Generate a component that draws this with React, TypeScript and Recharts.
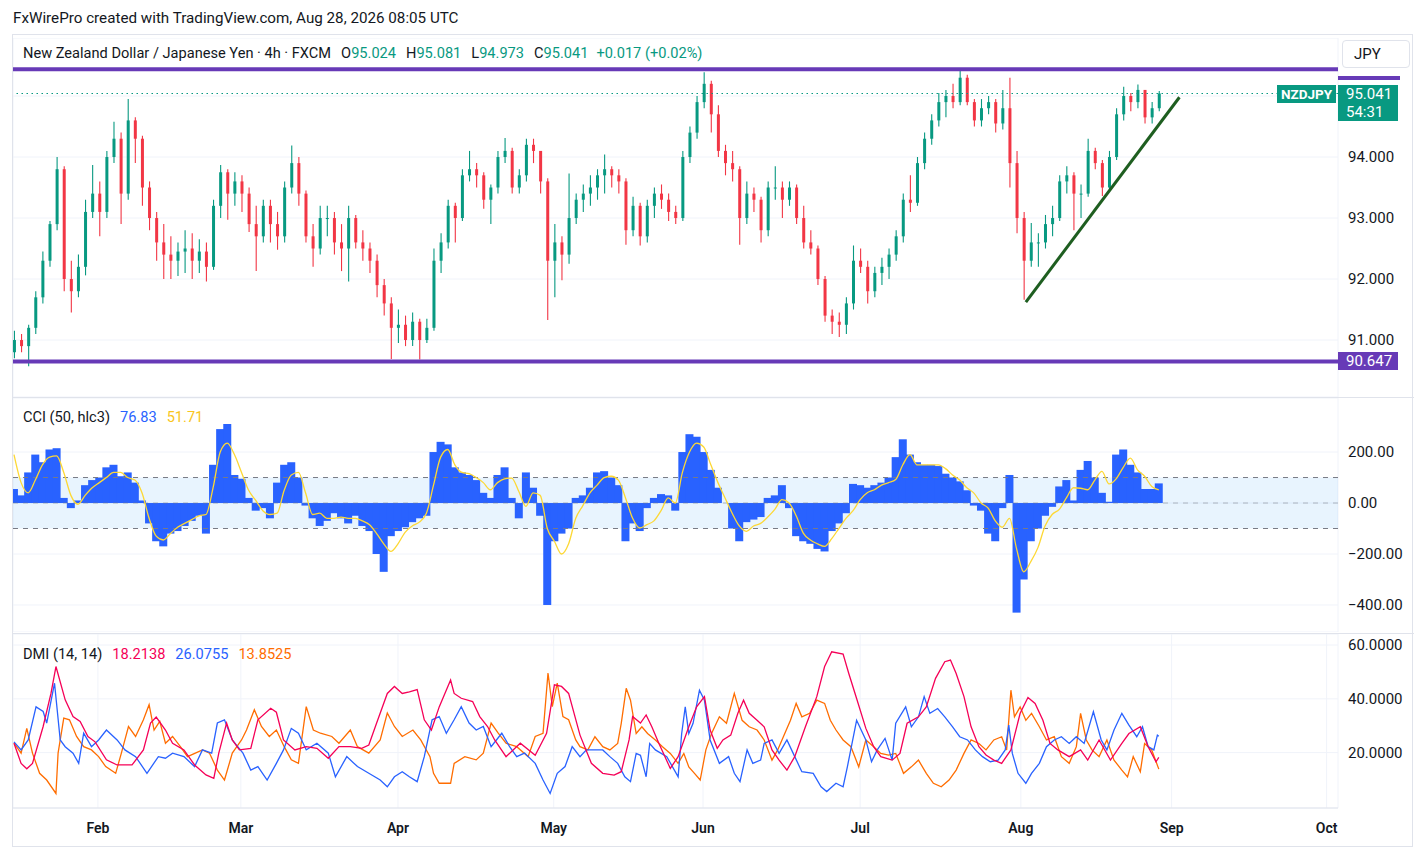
import React from 'react';
import { ComposedChart, Bar, Line, XAxis, YAxis, CartesianGrid, ReferenceLine, ReferenceArea } from 'recharts';

const FONT = 'Roboto, "Noto Sans", "DejaVu Sans", sans-serif';
const UP = '#089981';
const DOWN = '#f23645';
const GRID = '#f0f3fa';
const PURPLE = '#673ab7';
const TEXT = '#131722';

// trading-day index of month starts (x axis)
const monthTicks = [11.8, 31.9, 54, 75.9, 96.9, 119, 141.6, 162.8, 184.6];
const monthLabels = ['Feb', 'Mar', 'Apr', 'May', 'Jun', 'Jul', 'Aug', 'Sep', 'Oct'];
const xDomain: [number, number] = [-0.14, 186.2];

// daily OHLC, NZDJPY (Jan 15 .. Aug 28)
const ohlc: [number, number, number, number][] = [
  [90.80, 91.15, 90.70, 91.00], [91.00, 91.10, 90.80, 90.90], [90.90, 91.25, 90.57, 91.20], [91.20, 91.80, 91.10, 91.70], [91.70, 92.45, 91.60, 92.30],
  [92.30, 92.95, 92.20, 92.90], [92.90, 94.00, 92.80, 93.80], [93.80, 93.85, 91.80, 92.00], [92.00, 92.30, 91.45, 91.80], [91.80, 92.40, 91.70, 92.20],
  [92.20, 93.30, 92.06, 93.10], [93.10, 93.87, 93.00, 93.40], [93.40, 93.60, 92.70, 93.10], [93.10, 94.10, 93.00, 94.00], [94.00, 94.58, 93.90, 94.30],
  [94.30, 94.40, 92.90, 93.40], [93.40, 94.95, 93.30, 94.60], [94.60, 94.65, 93.90, 94.30], [94.30, 94.35, 93.20, 93.50], [93.50, 93.60, 92.80, 93.00],
  [93.00, 93.10, 92.30, 92.60], [92.60, 92.90, 92.00, 92.40], [92.40, 92.70, 92.00, 92.30], [92.30, 92.60, 92.05, 92.45], [92.45, 92.80, 92.10, 92.50],
  [92.50, 92.75, 92.00, 92.30], [92.30, 92.65, 92.10, 92.45], [92.45, 92.60, 91.96, 92.20], [92.20, 93.30, 92.15, 93.20], [93.20, 93.87, 93.00, 93.75],
  [93.75, 93.80, 92.97, 93.40], [93.40, 93.75, 93.20, 93.60], [93.60, 93.70, 93.10, 93.40], [93.40, 93.50, 92.77, 92.90], [92.90, 93.20, 92.13, 92.70],
  [92.70, 93.30, 92.60, 93.20], [93.20, 93.30, 92.60, 92.90], [92.90, 93.10, 92.48, 92.70], [92.70, 93.60, 92.60, 93.50], [93.50, 94.19, 93.40, 93.90],
  [93.90, 94.00, 93.20, 93.40], [93.40, 93.45, 92.60, 92.70], [92.70, 92.90, 92.20, 92.50], [92.50, 93.20, 92.40, 93.00], [93.00, 93.20, 92.70, 93.00],
  [93.00, 93.10, 92.40, 92.60], [92.60, 92.90, 92.13, 92.50], [92.50, 93.20, 91.96, 93.00], [93.00, 93.05, 92.50, 92.60], [92.60, 92.80, 92.30, 92.50],
  [92.50, 92.60, 92.10, 92.30], [92.30, 92.40, 91.70, 91.90], [91.90, 92.00, 91.40, 91.60], [91.60, 91.70, 90.69, 91.20], [91.20, 91.50, 90.95, 91.25],
  [91.25, 91.40, 90.90, 91.00], [91.00, 91.45, 90.90, 91.30], [91.30, 91.35, 90.68, 91.00], [91.00, 91.35, 90.95, 91.20], [91.20, 92.50, 91.15, 92.30],
  [92.30, 92.75, 92.10, 92.60], [92.60, 93.30, 92.50, 93.20], [93.20, 93.25, 92.60, 93.00], [93.00, 93.80, 92.95, 93.70], [93.70, 94.10, 93.60, 93.80],
  [93.80, 93.90, 93.50, 93.70], [93.70, 93.75, 93.15, 93.30], [93.30, 93.55, 92.90, 93.50], [93.50, 94.10, 93.40, 94.00], [94.00, 94.31, 93.90, 94.10],
  [94.10, 94.15, 93.40, 93.50], [93.50, 93.80, 93.40, 93.70], [93.70, 94.30, 93.60, 94.20], [94.20, 94.30, 93.90, 94.10], [94.10, 94.10, 93.40, 93.60],
  [93.60, 93.65, 91.33, 92.30], [92.30, 92.90, 91.70, 92.60], [92.60, 92.70, 91.98, 92.40], [92.40, 93.73, 92.25, 93.00], [93.00, 93.40, 92.90, 93.30],
  [93.30, 93.55, 93.10, 93.40], [93.40, 93.70, 93.20, 93.50], [93.50, 93.80, 93.30, 93.70], [93.70, 94.04, 93.40, 93.80], [93.80, 93.85, 93.50, 93.70],
  [93.70, 93.80, 93.40, 93.60], [93.60, 93.65, 92.56, 92.80], [92.80, 93.35, 92.70, 93.20], [93.20, 93.25, 92.55, 92.70], [92.70, 93.30, 92.60, 93.20],
  [93.20, 93.50, 93.00, 93.40], [93.40, 93.55, 93.15, 93.30], [93.30, 93.40, 92.95, 93.10], [93.10, 93.20, 92.90, 93.00], [93.00, 94.10, 92.95, 94.00],
  [94.00, 94.50, 93.90, 94.40], [94.40, 95.00, 94.30, 94.90], [94.90, 95.39, 94.80, 95.20], [95.20, 95.25, 94.40, 94.70], [94.70, 94.85, 94.00, 94.10],
  [94.10, 94.20, 93.70, 93.90], [93.90, 94.10, 93.60, 93.80], [93.80, 93.85, 92.56, 93.00], [93.00, 93.60, 92.90, 93.40], [93.40, 93.50, 93.10, 93.30],
  [93.30, 93.35, 92.60, 92.80], [92.80, 93.60, 92.70, 93.50], [93.50, 93.85, 93.30, 93.50], [93.50, 93.60, 93.00, 93.30], [93.30, 93.60, 93.20, 93.50],
  [93.50, 93.55, 92.90, 93.00], [93.00, 93.20, 92.50, 92.60], [92.60, 92.80, 92.40, 92.50], [92.50, 92.55, 91.90, 92.00], [92.00, 92.05, 91.30, 91.40],
  [91.40, 91.50, 91.10, 91.30], [91.30, 91.45, 91.05, 91.25], [91.25, 91.70, 91.10, 91.60], [91.60, 92.55, 91.50, 92.30], [92.30, 92.50, 92.10, 92.20],
  [92.20, 92.30, 91.60, 91.80], [91.80, 92.20, 91.70, 92.10], [92.10, 92.35, 91.90, 92.20], [92.20, 92.50, 92.00, 92.40], [92.40, 92.80, 92.30, 92.70],
  [92.70, 93.40, 92.60, 93.30], [93.30, 93.70, 93.10, 93.25], [93.25, 94.00, 93.20, 93.90], [93.90, 94.40, 93.80, 94.30], [94.30, 94.70, 94.20, 94.60],
  [94.60, 95.05, 94.50, 94.90], [94.90, 95.10, 94.65, 95.00], [95.00, 95.20, 94.80, 94.90], [94.90, 95.42, 94.85, 95.30], [95.30, 95.35, 94.85, 94.90],
  [94.90, 94.95, 94.50, 94.60], [94.60, 94.95, 94.50, 94.80], [94.80, 95.00, 94.70, 94.90], [94.90, 94.95, 94.40, 94.55], [94.55, 95.10, 94.45, 94.80],
  [94.80, 95.30, 93.50, 93.90], [93.90, 94.10, 92.75, 93.00], [93.00, 93.10, 91.66, 92.30], [92.30, 92.92, 92.20, 92.60], [92.60, 92.75, 92.20, 92.60],
  [92.60, 93.05, 92.50, 92.90], [92.90, 93.20, 92.70, 93.00], [93.00, 93.70, 92.95, 93.60], [93.60, 93.85, 93.40, 93.70], [93.70, 93.75, 92.80, 93.40],
  [93.40, 93.55, 93.00, 93.40], [93.40, 94.30, 93.35, 94.10], [94.10, 94.15, 93.80, 93.90], [93.90, 93.95, 93.36, 93.50], [93.50, 94.10, 93.45, 94.00],
  [94.00, 94.80, 93.95, 94.70], [94.70, 95.15, 94.60, 95.00], [95.00, 95.05, 94.75, 94.90], [94.90, 95.19, 94.80, 95.10], [95.10, 95.10, 94.55, 94.65],
  [94.65, 94.90, 94.55, 94.80], [94.80, 95.081, 94.75, 95.041],
];

const cciHist = [
  55, 30, 120, 190, 160, 210, 215, 20, -20, 10,
  70, 90, 100, 140, 150, 105, 120, 80, 10, -80,
  -150, -170, -120, -110, -90, -70, -50, -120, 150, 290,
  310, 110, 95, 20, -30, -20, -60, 80, 150, 160,
  100, -10, -60, -90, -70, -40, -60, -80, -50, -90,
  -110, -200, -270, -130, -110, -95, -75, -60, -50, 200,
  240, 230, 140, 120, 110, 90, 40, 20, 110, 140,
  20, -60, 120, 60, -50, -400, -150, -120, -100, 20,
  30, 60, 120, 125, 100, 70, -150, -80, -110, -20,
  20, 35, 30, -30, 200, 270, 260, 200, 130, 60,
  0, -100, -150, -75, -65, -55, 20, 30, 70, -20,
  -130, -150, -160, -180, -190, -110, -80, -40, 75, 70,
  60, 70, 80, 100, 180, 250, 190, 160, 150, 150,
  145, 115, 100, 85, 50, -10, -30, -120, -150, -20,
  110, -430, -300, -150, -100, -50, -15, 65, 90, 10,
  130, 165, 100, 40, 5, 190, 210, 150, 120, 55,
  55, 77,
];

const cciSignal = [
  190, 80, 40, 90, 150, 180, 185, 120, 30, -5,
  30, 60, 80, 100, 120, 120, 100, 90, 40, -60,
  -130, -145, -120, -95, -80, -65, -50, -45, 60, 200,
  235, 190, 120, 50, 10, -30, -45, -40, 50, 110,
  120, 40, -45, -40, -60, -60, -55, -60, -60, -70,
  -85, -120, -160, -190, -160, -115, -90, -75, -40, 70,
  180, 210, 150, 120, 115, 100, 80, 52, 80, 95,
  98, 45, -13, 40, 30, -100, -150, -200, -160, -60,
  -10, 40, 70, 100, 105, 90, 20, -60, -98, -85,
  -70, -30, 20, 0, 120, 200, 235, 220, 150, 80,
  20, -40, -90, -111, -90, -80, -55, -25, 13, 0,
  -50, -118, -145, -160, -170, -140, -100, -60, -30, 13,
  40, 52, 70, 80, 92, 150, 190, 150, 150, 150,
  150, 135, 110, 90, 60, 39, 0, -20, -70, -95,
  -60, -180, -270, -230, -175, -90, -45, -25, 20, 60,
  58, 52, 90, 124, 75, 95, 140, 176, 130, 105,
  65, 52,
];

// DMI readings: [trading-day index, value]
const adxPts: [number, number][] = [[0,23.5],[1,16],[1.8,14],[2.6,16],[4.1,29.7],[5.2,42],[5.9,52],[7.2,39.6],[8.3,33.4],[9.3,31.6],[10.4,26],[11.4,24],[13,17.3],[14.5,15.4],[16.6,15.4],[18.2,21],[19.2,31],[20,33.2],[21.3,28.4],[22.3,23.5],[23.9,21],[25.4,15.4],[27,11.7],[28.1,10.4],[28.8,19.8],[29.9,31],[30.7,24.7],[31.7,21],[33.3,21.6],[34.3,32.2],[36.1,36.5],[36.9,35],[37.9,24.7],[39.5,21],[41.1,22.2],[42.6,21.6],[44.2,17.9],[45.7,22.2],[47.3,22.2],[48.9,21.6],[49.9,22.8],[51,31],[52.5,42],[53.5,44.6],[54.6,42],[55.6,42.6],[56.7,43.4],[57.7,32.2],[58.7,28.4],[59.8,37],[61.4,47],[61.9,42],[62.9,40.2],[64.5,39],[65.5,33.4],[66.6,29.7],[67.6,24.7],[69.2,18.5],[71.2,23.5],[73.3,19],[74.9,27.2],[76,45.2],[77,44.6],[78,42],[79.6,26.5],[81.2,16],[82.8,12.3],[84.4,11.6],[85.4,12.9],[86.5,24.7],[87,33.4],[88.1,31],[88.9,34],[89.7,29.6],[90.7,23.4],[92.3,14.1],[93.4,18.5],[94.9,29.6],[96,37],[97.1,40.8],[97.9,28.4],[98.9,21.6],[99.7,24.7],[100.8,26.5],[101.8,34.6],[102.6,39.5],[103.4,34.6],[104.5,32],[105.5,29.6],[106.6,21],[107.6,17.2],[108.7,13.5],[109.8,18.5],[111.3,29.6],[112.9,40.8],[114,52],[115,57.5],[116.6,56.6],[117.4,49.4],[118.5,40.1],[119.8,29],[120.9,22.2],[121.9,18.5],[123.5,17.2],[124.6,19.7],[125.6,30.9],[127.2,33.3],[128.3,37],[129.6,47.6],[130.9,53.8],[131.7,54.4],[132.5,49.4],[133.6,40.8],[134.6,29.6],[135.7,22.2],[136.7,19.1],[137.8,17.2],[138.9,16],[140.2,21],[141.5,34.6],[142.6,40.5],[143.6,38.3],[144.7,32],[145.7,23.4],[146.8,21],[148.4,18.5],[150,21],[151,17.2],[152.6,24.7],[154.2,17.2],[155.8,23.4],[156.8,27.1],[158.4,29.6],[159.5,22.2],[160.6,16.6],[161,18.2]];

const plusDiPts: [number, number][] = [[0,24],[1,21],[2,24.7],[3.1,37],[4.1,35.3],[4.6,31],[5.7,45.8],[6.5,24.7],[7.2,22.2],[8.3,19.8],[9.1,16],[9.8,27.2],[10.9,22.2],[11.9,24.7],[13,28.4],[14.5,24.7],[15.6,21],[17.1,18.5],[18.7,12.3],[20.3,18.5],[21.3,17.9],[22.3,19.8],[23.9,18.5],[25.4,14.8],[26.5,21],[27.8,19.8],[28.6,31],[29.6,32.2],[30.7,24.7],[32.2,19.8],[33.3,13.5],[34.3,14.8],[35.6,9.8],[36.9,16],[37.9,21],[39,29],[40,27.2],[41.1,21],[42.6,23.5],[44.2,19.8],[45.2,11],[46.8,18.5],[48.3,14.8],[49.9,12.3],[51.5,9.8],[52.5,7.3],[53.5,11],[54.6,12.9],[55.6,11],[56.7,9.2],[57.7,18.5],[58.8,32.2],[59.8,33.4],[60.8,27.2],[61.9,32.2],[62.9,37.1],[64,31],[65,28.4],[66,29.7],[67.1,22.2],[68.6,27.2],[69.7,22.2],[70.7,18.5],[71.8,19.8],[73.3,16],[74.4,9.8],[75.4,4.8],[76.4,12.3],[77.5,14.8],[78.5,22.2],[79.6,18.5],[80.5,21],[82.8,21],[83.8,18.5],[84.9,16],[85.9,11],[86.7,9.2],[87.5,19.7],[88.1,19],[88.9,11],[89.4,23.4],[90.2,21],[91.8,18.5],[93.4,11],[93.9,27.1],[94.4,37],[94.9,27.1],[95.5,30.9],[96.4,43.2],[97.1,39.5],[97.9,24.7],[99.2,16],[100.5,18.5],[101.3,12.3],[102.1,9.2],[103.1,21],[103.9,16],[105,17.2],[105.5,23.4],[106.6,24.7],[107.6,19.7],[108.7,24.7],[109.8,18.5],[110.8,12.9],[112.4,12.3],[113.5,7.3],[114.3,5.5],[115.6,8.6],[116.6,7.3],[117.2,14.7],[118.5,32],[119.8,24.7],[120.6,16.6],[121.4,21],[122.5,25.3],[123.5,17.2],[124,30.9],[125.4,37],[126.2,29.6],[127.2,33.3],[128,40.8],[128.8,34.6],[129.9,36.4],[130.9,33.3],[132,29.6],[133,25.9],[134.1,24.7],[135.2,21],[136.2,18.5],[137.3,16.6],[138.4,17.2],[139.4,21],[139.9,30.2],[140.4,19.7],[141.2,12.3],[142.3,8.6],[143.1,12.3],[144.2,16],[145.2,22.2],[146.3,24.7],[147.3,25.9],[148.4,23.4],[149.4,25.9],[150.5,23.4],[151.8,35.2],[152.9,24.7],[153.7,21],[154.7,28.4],[155.8,34.6],[156.8,30.2],[157.9,25.9],[158.7,29.6],[159.5,22.2],[160.3,21],[160.8,26.5],[161,26.1]];

const minusDiPts: [number, number][] = [[0,23.5],[1,19.8],[1.8,29],[2.6,19.8],[3.6,12.3],[4.6,9.8],[5.9,4.8],[6.2,19.8],[7,32.8],[7.8,32.2],[8.8,26],[9.8,22.2],[10.9,21],[11.9,18.5],[12.9,14.8],[14.3,12.3],[15.1,19.8],[16.1,29.7],[17.1,26],[18.2,32.2],[19,37.8],[19.7,28.4],[20.5,31.6],[21.3,23.5],[22.3,26],[23.4,22.2],[24.4,18.5],[25.5,19.8],[26.5,21],[27.5,19.8],[28.6,13.5],[29.6,9.8],[30.7,19.8],[32,24.7],[32.7,28.4],[33.8,35.9],[34.8,29.7],[35.9,26],[36.9,28.4],[38,22.2],[39,17.3],[40,16],[41.1,37.1],[42.1,28.4],[43.1,27.2],[44.7,26],[45.7,23.5],[47.3,28.4],[48.3,22.2],[49.9,19.8],[51.5,24.7],[52.5,34.7],[53.5,29.7],[54.6,26],[56.1,28.4],[57.2,24.7],[58.5,18.5],[59,12.3],[59.8,8.6],[61.4,8.6],[61.9,16],[63.4,18.5],[65,17.3],[66,19.8],[67.1,31],[68.1,27.2],[69.2,23.5],[70.7,22.2],[72.3,18.5],[73.3,26],[74.4,27.2],[75.1,49.6],[75.7,37.1],[76.4,45.8],[77.2,33.4],[78,32.2],[79,24.7],[79.6,22.2],[80.7,21],[81.7,25.9],[82.8,22.2],[83.8,21],[84.9,23.4],[85.4,30.9],[86.1,43.9],[86.7,39.5],[87.5,27.1],[88.3,29.6],[89.1,27.1],[90.2,24.7],[91.2,22.2],[92.3,19.7],[93.4,16],[94.2,19.7],[94.9,14.7],[95.7,12.3],[96.5,9.8],[97.3,21],[98.1,27.1],[99.2,33.3],[100.2,30.9],[101.3,42],[102.4,32],[103.4,29.6],[104.5,28.4],[105.5,24.7],[106.6,17.2],[107.4,21],[108.2,25.9],[109.2,32],[110,38.3],[110.8,33.3],[111.9,34.6],[112.9,39.5],[114,38.3],[114.8,32],[115.6,28.4],[116.6,24.7],[117.7,22.2],[118.8,14.7],[119.8,24.7],[120.9,22.2],[121.9,19.7],[123,19.1],[124,19.7],[125.1,12.3],[126.2,14.7],[127.2,17.2],[128.3,12.3],[129.3,8.6],[130.4,7.3],[131.5,9.8],[132.5,13.5],[133.6,19.7],[134.6,24.7],[135.7,23.4],[136.7,21],[137.8,24.7],[138.9,25.9],[139.6,21],[140.2,43.2],[140.7,33.3],[141.5,37],[142.3,32],[143.1,34.6],[144.2,29.6],[145.2,24.7],[146.3,25.9],[147.3,18.5],[148.4,16],[149.4,22.2],[150,34.6],[150.8,24.7],[151.6,21],[152.6,18.5],[153.7,24.7],[154.7,17.2],[155.8,13.5],[156.6,11],[157.4,18.5],[158.4,12.9],[159,23.4],[160,21],[161,13.85]];

const resistance = 95.438;
const support = 90.647;
const lastPrice = 95.041;
const trendFrom = { t: 142.3, p: 91.62 };
const trendTo = { t: 163.9, p: 94.98 };

const priceTicks = [91, 92, 93, 94, 95];
const cciTicks = [-400, -200, 0, 200];
const dmiTicks = [20, 40, 60];

const candles = ohlc.map(([o, h, l, c], t) => ({ t, o, h, l, c }));
const cciData = cciHist.map((v, t) => ({ t, cci: v, sig: cciSignal[t] }));
const toPts = (a: [number, number][]) => a.map(([t, v]) => ({ t, v }));

const PLOT_W = 1325;
const AXIS_W = 76;
const CHART_W = PLOT_W + AXIS_W;
const M = { top: 0, right: 0, bottom: 0, left: 0 };
const tickStyle = { fill: TEXT, fontSize: 15, fontFamily: FONT };

function Candle(props: any) {
  const { x, y, width, height, payload } = props;
  if (!payload || y == null || height == null) return null;
  const top = Math.min(y, y + height);
  const span = Math.abs(height);
  const { o, h, l, c } = payload;
  const k = h - l > 0 ? span / (h - l) : 0;
  const py = (v: number) => top + (h - v) * k;
  const cx = x + width / 2;
  const color = c >= o ? UP : DOWN;
  const y1 = py(Math.max(o, c));
  const y2 = py(Math.min(o, c));
  return (
    <g>
      <line x1={cx} x2={cx} y1={top} y2={top + span} stroke={color} strokeWidth={1.1} />
      <rect x={cx - 1.5} y={y1} width={3} height={Math.max(1, y2 - y1)} fill={color} />
    </g>
  );
}

function HistBar(props: any) {
  const { x, y, width, height, fill } = props;
  if (x == null || y == null || height == null) return null;
  const top = Math.min(y, y + height);
  return <rect x={x - 0.5} y={top} width={width + 1} height={Math.abs(height)} fill={fill} />;
}

const minus = (v: number, d: number) => (v < 0 ? '\u2212' + Math.abs(v).toFixed(d) : v.toFixed(d));

export default function App() {
  const abs = (l: number, t: number): React.CSSProperties => ({ position: 'absolute', left: l, top: t });
  return (
    <div style={{ position: 'absolute', left: 0, top: 0, width: 1414, height: 851, background: '#fff', fontFamily: FONT, color: TEXT, overflow: 'hidden' }}>
      {/* frame */}
      <div style={{ ...abs(12, 34), width: 1401, height: 813, border: '1px solid #e0e3eb', boxSizing: 'border-box' }} />
      <div style={{ ...abs(12, 397), width: 1402, height: 1, background: '#e0e3eb' }} />
      <div style={{ ...abs(12, 633), width: 1402, height: 1, background: '#e0e3eb' }} />

      {/* main price pane */}
      <div style={{ ...abs(13, 38) }}>
        <ComposedChart width={CHART_W} height={359} data={candles} margin={M}>
          <CartesianGrid stroke={GRID} />
          <XAxis dataKey="t" type="number" domain={xDomain} ticks={monthTicks} allowDataOverflow tick={false} tickLine={false} axisLine={false} height={0} />
          <YAxis orientation="right" width={AXIS_W} domain={[90.066, 95.951]} ticks={priceTicks} allowDataOverflow
            tickFormatter={(v: number) => v.toFixed(3)} tick={tickStyle} tickLine={false} axisLine={false} tickMargin={4} />
          <ReferenceLine y={lastPrice} stroke={UP} strokeDasharray="1.5 3.5" strokeWidth={1.2} />
          <Bar dataKey={(d: any) => [d.l, d.h]} shape={<Candle />} barSize={6} isAnimationActive={false} />
          <ReferenceLine y={resistance} stroke={PURPLE} strokeWidth={4} />
          <ReferenceLine y={support} stroke={PURPLE} strokeWidth={4} />
          <ReferenceLine segment={[{ x: trendFrom.t, y: trendFrom.p }, { x: trendTo.t, y: trendTo.p }]} stroke="#1e5e20" strokeWidth={3} ifOverflow="visible" />
        </ComposedChart>
      </div>

      {/* CCI pane */}
      <div style={{ ...abs(13, 398) }}>
        <ComposedChart width={CHART_W} height={234} data={cciData} margin={M}>
          <CartesianGrid stroke={GRID} />
          <XAxis dataKey="t" type="number" domain={xDomain} ticks={monthTicks} allowDataOverflow tick={false} tickLine={false} axisLine={false} height={0} />
          <YAxis orientation="right" width={AXIS_W} domain={[-506, 412]} ticks={cciTicks} allowDataOverflow
            tickFormatter={(v: number) => minus(v, 2)} tick={tickStyle} tickLine={false} axisLine={false} tickMargin={4} />
          <ReferenceArea y1={-100} y2={100} fill="#2196f3" fillOpacity={0.1} stroke="none" />
          <Bar dataKey="cci" fill="#2962ff" barSize={7} shape={<HistBar />} isAnimationActive={false} />
          <ReferenceLine y={100} stroke="#787b86" strokeDasharray="5 5" />
          <ReferenceLine y={-100} stroke="#787b86" strokeDasharray="5 5" />
          <ReferenceLine y={0} stroke="#787b86" strokeOpacity={0.5} strokeDasharray="5 5" />
          <Line dataKey="sig" type="monotone" stroke="#fdd835" strokeWidth={1.3} dot={false} isAnimationActive={false} />
        </ComposedChart>
      </div>

      {/* DMI pane */}
      <div style={{ ...abs(13, 634) }}>
        <ComposedChart width={CHART_W} height={214} margin={M}>
          <CartesianGrid stroke={GRID} />
          <XAxis dataKey="t" type="number" domain={xDomain} ticks={monthTicks} allowDataOverflow height={40}
            tickFormatter={(v: number) => monthLabels[monthTicks.indexOf(v)] ?? ''}
            tick={{ fill: TEXT, fontSize: 14, fontFamily: FONT, fontWeight: 600 }} tickLine={false} axisLine={{ stroke: '#e0e3eb' }} tickMargin={9} />
          <YAxis orientation="right" width={AXIS_W} domain={[-0.6, 64.1]} ticks={dmiTicks} allowDataOverflow
            tickFormatter={(v: number) => v.toFixed(4)} tick={tickStyle} tickLine={false} axisLine={false} tickMargin={4} />
          <Line data={toPts(minusDiPts)} dataKey="v" type="linear" stroke="#ff6d00" strokeWidth={1.3} dot={false} isAnimationActive={false} />
          <Line data={toPts(plusDiPts)} dataKey="v" type="linear" stroke="#2962ff" strokeWidth={1.3} dot={false} isAnimationActive={false} />
          <Line data={toPts(adxPts)} dataKey="v" type="linear" stroke="#f50057" strokeWidth={1.3} dot={false} isAnimationActive={false} />
        </ComposedChart>
      </div>

      {/* header texts */}
      <div style={{ ...abs(13, 9), fontSize: 15.2, lineHeight: '18px', whiteSpace: 'nowrap' }}>
        FxWirePro created with TradingView.com, Aug 28, 2026 08:05 UTC
      </div>
      <div style={{ ...abs(23, 44), fontSize: 14.6, lineHeight: '18px', whiteSpace: 'nowrap' }}>
        <span>New Zealand Dollar / Japanese Yen · 4h · FXCM</span>
        <span style={{ marginLeft: 10 }}>O<span style={{ color: UP }}>95.024</span></span>
        <span style={{ marginLeft: 10 }}>H<span style={{ color: UP }}>95.081</span></span>
        <span style={{ marginLeft: 10 }}>L<span style={{ color: UP }}>94.973</span></span>
        <span style={{ marginLeft: 10 }}>C<span style={{ color: UP }}>95.041</span></span>
        <span style={{ marginLeft: 8, color: UP }}>+0.017 (+0.02%)</span>
      </div>
      <div style={{ ...abs(23, 408), fontSize: 14.6, lineHeight: '18px', whiteSpace: 'nowrap' }}>
        <span>CCI (50, hlc3)</span>
        <span style={{ marginLeft: 10, color: '#2962ff' }}>76.83</span>
        <span style={{ marginLeft: 10, color: '#f9c51c' }}>51.71</span>
      </div>
      <div style={{ ...abs(23, 645), fontSize: 14.6, lineHeight: '18px', whiteSpace: 'nowrap' }}>
        <span>DMI (14, 14)</span>
        <span style={{ marginLeft: 10, color: '#f50057' }}>18.2138</span>
        <span style={{ marginLeft: 10, color: '#2962ff' }}>26.0755</span>
        <span style={{ marginLeft: 10, color: '#ff6d00' }}>13.8525</span>
      </div>

      {/* right axis labels */}
      <div style={{ ...abs(1342, 40), width: 68, height: 28, border: '1px solid #e0e3eb', borderRadius: 4, boxSizing: 'border-box', fontSize: 15, lineHeight: '26px', paddingLeft: 11, background: '#fff' }}>JPY</div>
      <div style={{ ...abs(1338, 76), width: 62, height: 4, background: PURPLE }} />
      <div style={{ ...abs(1277, 85), width: 59, height: 18, background: UP, color: '#fff', fontSize: 13.5, fontWeight: 700, lineHeight: '18px', textAlign: 'center' }}>NZDJPY</div>
      <div style={{ ...abs(1338, 85), width: 60, height: 36, background: UP, color: '#fff', fontSize: 15, lineHeight: '18px', paddingLeft: 8, boxSizing: 'border-box' }}>
        <div>95.041</div>
        <div>54:31</div>
      </div>
      <div style={{ ...abs(1338, 352), width: 60, height: 18, background: PURPLE, color: '#fff', fontSize: 15, lineHeight: '18px', paddingLeft: 8, boxSizing: 'border-box' }}>90.647</div>
    </div>
  );
}
